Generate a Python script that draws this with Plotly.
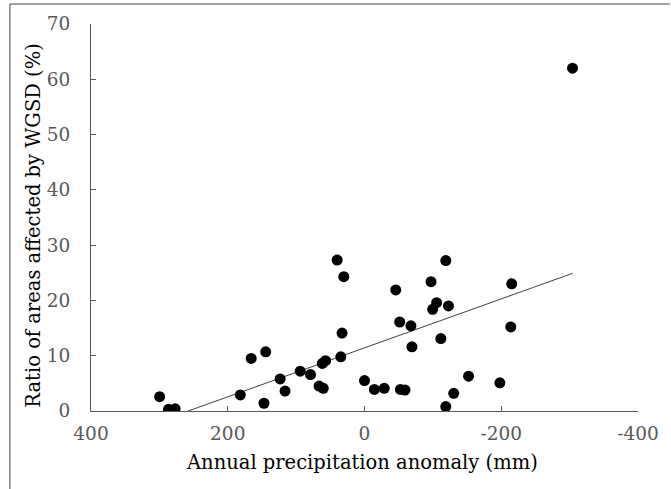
import plotly.graph_objects as go

# Annual precipitation anomaly (mm) and ratio of areas affected by WGSD (%)
precip_anomaly = [299.6, 286.7, 277.0, 181.6, 165.7, 147.0, 144.5, 123.4, 116.2, 94.0,
                  79.0, 66.5, 60.3, 61.7, 56.9, 40.0, 34.7, 32.8, 30.3, 0.0,
                  -14.5, -28.9, -45.7, -51.5, -52.5, -59.2, -67.9, -69.4, -97.3, -99.7,
                  -105.5, -111.7, -118.9, -118.9, -122.8, -130.5, -152.2, -198.0, -213.9, -215.3,
                  -304.2]
wgsd_ratio = [2.6, 0.3, 0.4, 2.9, 9.5, 1.4, 10.7, 5.8, 3.6, 7.2,
              6.6, 4.5, 4.1, 8.6, 9.1, 27.3, 9.8, 14.1, 24.3, 5.5,
              3.9, 4.1, 21.9, 16.1, 3.9, 3.8, 15.4, 11.6, 23.4, 18.4,
              19.6, 13.1, 27.2, 0.8, 19.0, 3.2, 6.3, 5.1, 15.2, 23.0,
              62.0]

# Linear trend line (endpoints)
trend_x = [257.8, -304.3]
trend_y = [0.0, 24.9]

x_ticks = [400, 200, 0, -200, -400]
y_ticks = [0, 10, 20, 30, 40, 50, 60, 70]

x_title = "Annual precipitation anomaly (mm)"
y_title = "Ratio of areas affected by WGSD (%)"

FONT = "DejaVu Serif"

fig = go.Figure()
fig.add_trace(go.Scatter(x=trend_x, y=trend_y, mode="lines",
                         line=dict(color="#404040", width=1), hoverinfo="skip",
                         showlegend=False))
fig.add_trace(go.Scatter(x=precip_anomaly, y=wgsd_ratio, mode="markers",
                         marker=dict(color="black", size=11),
                         showlegend=False))

W, H = 671, 489
L, R, T, B = 91, 27, 24, 78
pw, ph = W - L - R, H - T - B

fig.update_layout(
    width=W, height=H,
    margin=dict(l=L, r=R, t=T, b=B, pad=0),
    paper_bgcolor="white", plot_bgcolor="white",
    font=dict(family=FONT, color="black", size=19),
)
fig.update_xaxes(range=[400, -400], tickvals=x_ticks, ticktext=[str(v) for v in x_ticks],
                 showgrid=False, zeroline=False, showline=True, linecolor="#595959", linewidth=1,
                 ticks="inside", ticklen=5, tickcolor="#595959",
                 tickfont_family=FONT, tickfont_size=18.5, tickfont_color="#595959",
                 ticklabelstandoff=6)
fig.update_yaxes(range=[0, 70], tickvals=y_ticks,
                 showgrid=False, zeroline=False, showline=True, linecolor="#595959", linewidth=1,
                 ticks="inside", ticklen=5, tickcolor="#595959",
                 tickfont_family=FONT, tickfont_size=18.5, tickfont_color="#595959",
                 ticklabelstandoff=16)

# Axis titles
fig.add_annotation(text=x_title, xref="paper", yref="paper",
                   x=(365 - L) / pw, y=(H - B - 462) / ph, xanchor="center", yanchor="middle",
                   showarrow=False, font=dict(family=FONT, size=19.5, color="black"))
fig.add_annotation(text=y_title, xref="paper", yref="paper", textangle=-90,
                   x=(32 - L) / pw, y=(H - B - 225) / ph, xanchor="center", yanchor="middle",
                   showarrow=False, font=dict(family=FONT, size=19.5, color="black"))

# Outer frame lines (top and left) of the chart area
fig.add_shape(type="line", xref="paper", yref="paper",
              x0=(9 - L) / pw, x1=(W + 5 - L) / pw, y0=(H - B - 4) / ph, y1=(H - B - 4) / ph,
              line=dict(color="#404040", width=1))
fig.add_shape(type="line", xref="paper", yref="paper",
              x0=(9 - L) / pw, x1=(9 - L) / pw, y0=(H - B - 4) / ph, y1=-(B + 5) / ph,
              line=dict(color="#404040", width=1))

fig.write_html("out.html")
